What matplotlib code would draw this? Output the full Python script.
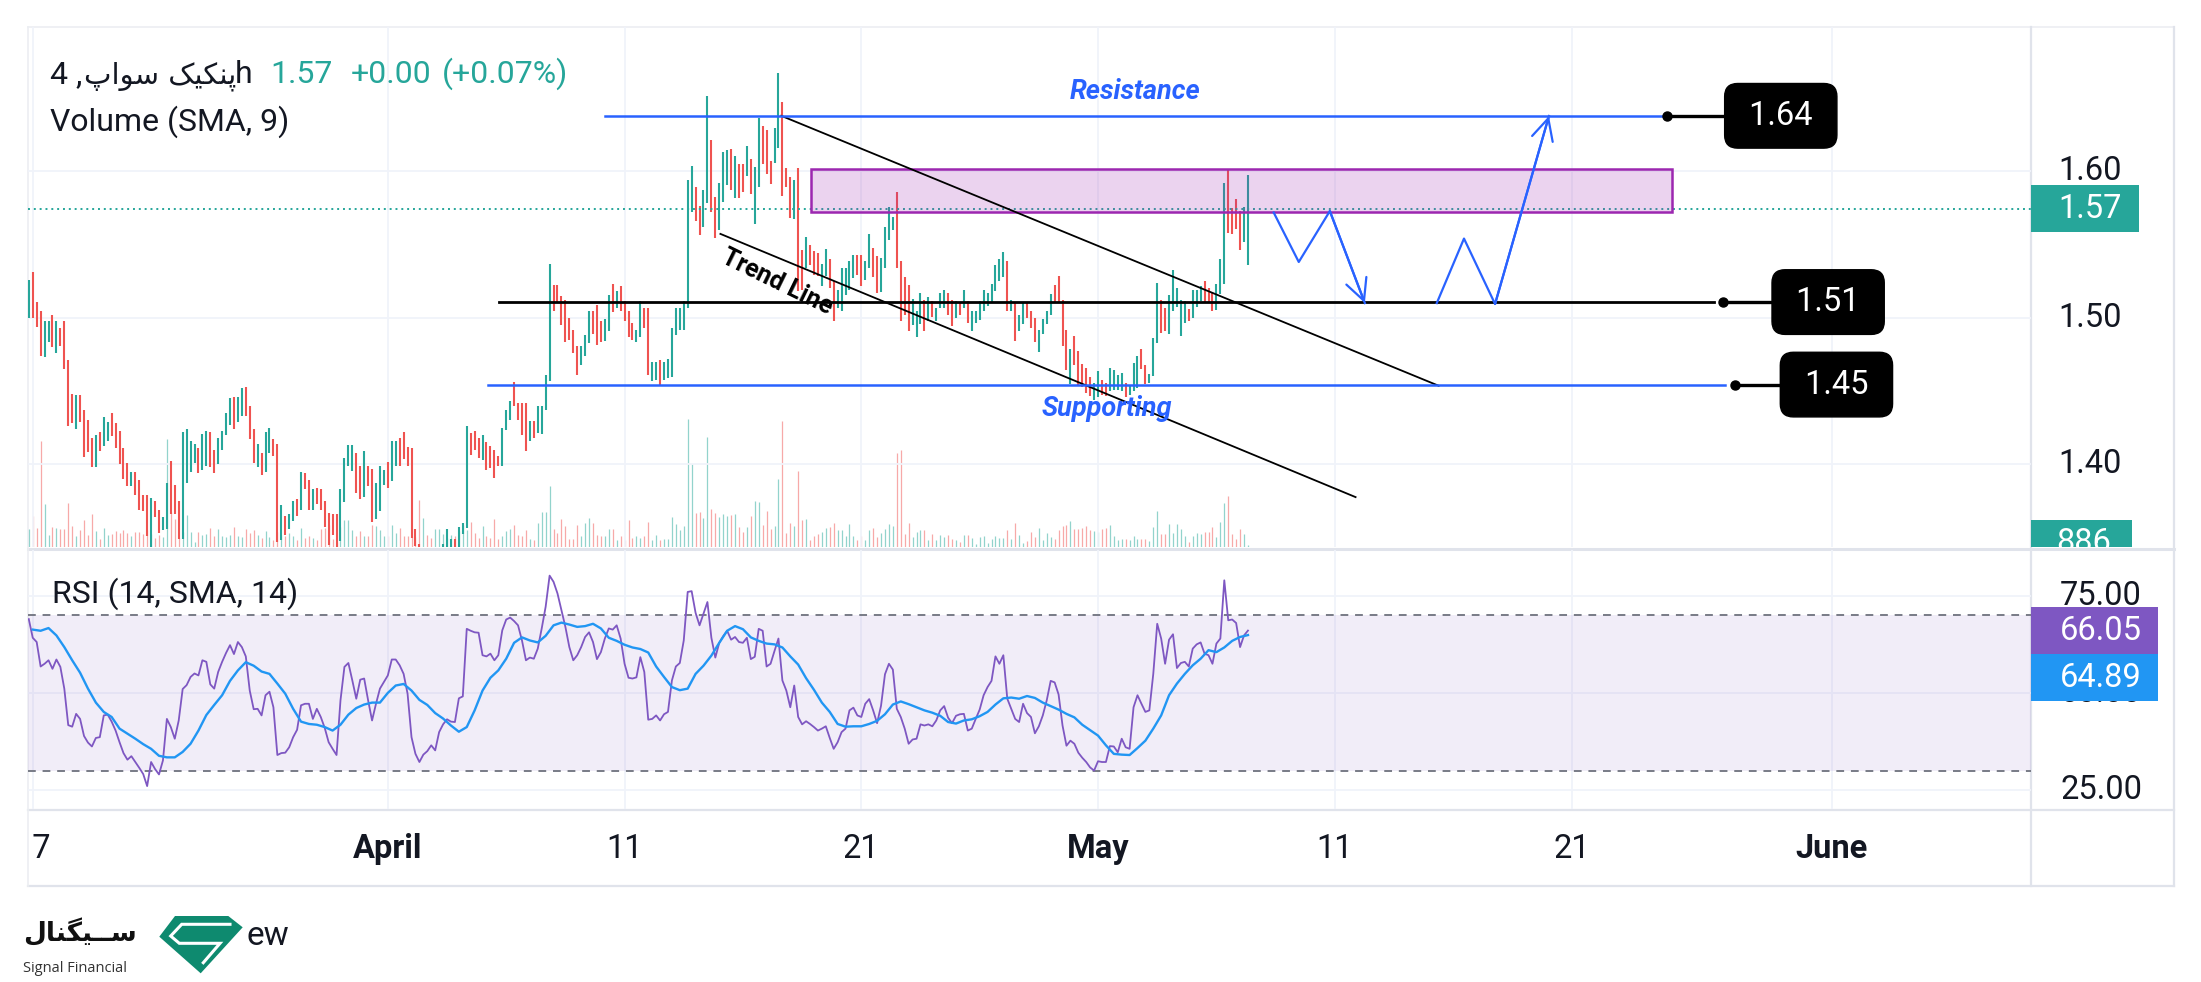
import matplotlib
matplotlib.use("Agg")
import matplotlib.pyplot as plt
import matplotlib.dates as mdates
from matplotlib.patches import Rectangle, Polygon
import pandas as pd

W, H = 2201, 982
plt.rcParams['font.family'] = ['Roboto', 'DejaVu Sans']

# ---------------- values ----------------
candle_start = "2025-03-16 20:00"      # first visible 4h candle

candle_high = [
    1.5257, 1.5310, 1.5110, 1.5046, 1.4977, 1.4977, 1.5018, 1.4977, 1.4930, 1.4977,
    1.4710, 1.4480, 1.4470, 1.4470, 1.4370, 1.4300, 1.4180, 1.4200, 1.4220, 1.4320,
    1.4290, 1.4350, 1.4280, 1.4226, 1.4110, 1.4007, 1.3945, 1.3945, 1.3890, 1.3790,
    1.3790, 1.3770, 1.3750, 1.3686, 1.3640, 1.3870, 1.4020, 1.3856, 1.3750, 1.4220,
    1.4240, 1.4160, 1.4137, 1.4110, 1.4205, 1.4226, 1.4220, 1.4096, 1.4180, 1.4226,
    1.4350, 1.4450, 1.4458, 1.4458, 1.4520, 1.4526, 1.4396, 1.4240, 1.4137, 1.4075,
    1.4220, 1.4246, 1.4170, 1.4137, 1.3720, 1.3645, 1.3658, 1.3747, 1.3760, 1.3945,
    1.3940, 1.3890, 1.3830, 1.3836, 1.3830, 1.3747, 1.3663, 1.3658, 1.3658, 1.3826,
    1.4040, 1.4133, 1.4133, 1.4076, 1.3985, 1.4087, 1.3990, 1.3967, 1.3871, 1.3990,
    1.3962, 1.4012, 1.4160, 1.4160, 1.4178, 1.4220, 1.4115, 1.4110, 1.3553, 1.3451,
    1.3400, 1.3380, 1.3390, 1.3410, 1.3420, 1.3455, 1.3553, 1.3490, 1.3490, 1.3570,
    1.3600, 1.4263, 1.4213, 1.4224, 1.4179, 1.4201, 1.4151, 1.4122, 1.4099, 1.4053,
    1.4247, 1.4372, 1.4429, 1.4561, 1.4418, 1.4418, 1.4418, 1.4292, 1.4292, 1.4395,
    1.4395, 1.4611, 1.5369, 1.5221, 1.5221, 1.5146, 1.5123, 1.4998, 1.4918, 1.4809,
    1.4809, 1.4884, 1.5043, 1.5043, 1.5084, 1.4980, 1.4993, 1.5152, 1.5230, 1.5184,
    1.5214, 1.5111, 1.5048, 1.4964, 1.4918, 1.5111, 1.5066, 1.5066, 1.4697, 1.4697,
    1.4713, 1.4697, 1.4720, 1.4929, 1.5066, 1.5066, 1.5111, 1.5942, 1.6038, 1.5896,
    1.5767, 1.5874, 1.6516, 1.6216, 1.5828, 1.5919, 1.6130, 1.6146, 1.6152, 1.6107,
    1.6050, 1.6050, 1.6171, 1.6084, 1.6027, 1.6368, 1.6307, 1.6284, 1.6073, 1.6300,
    1.6676, 1.6476, 1.6020, 1.5959, 1.5940, 1.6020, 1.5464, 1.5555, 1.5494, 1.5453,
    1.5441, 1.5366, 1.5471, 1.5403, 1.5248, 1.5191, 1.5339, 1.5339, 1.5389, 1.5430,
    1.5430, 1.5430, 1.5385, 1.5571, 1.5475, 1.5423, 1.5407, 1.5623, 1.5760, 1.5687,
    1.5856, 1.5385, 1.5275, 1.5221, 1.5130, 1.5043, 1.5168, 1.5123, 1.5139, 1.5111,
    1.5066, 1.5168, 1.5191, 1.5168, 1.5123, 1.5111, 1.5107, 1.5191, 1.5111, 1.5043,
    1.5043, 1.5111, 1.5191, 1.5168, 1.5230, 1.5362, 1.5403, 1.5448, 1.5389, 1.5123,
    1.5107, 1.5020, 1.5100, 1.5100, 1.5043, 1.4998, 1.4918, 1.4993, 1.5043, 1.5162,
    1.5225, 1.5282, 1.5123, 1.4918, 1.4788, 1.4873, 1.4770, 1.4684, 1.4656, 1.4593,
    1.4554, 1.4634, 1.4577, 1.4554, 1.4656, 1.4645, 1.4611, 1.4622, 1.4554, 1.4531,
    1.4691, 1.4736, 1.4788, 1.4679, 1.4615, 1.4861, 1.5237, 1.5123, 1.5066, 1.5157,
    1.5328, 1.5203, 1.5123, 1.5111, 1.5061, 1.5191, 1.5191, 1.5214, 1.5248, 1.5203,
    1.5175, 1.5230, 1.5403, 1.5919, 1.6010, 1.5749, 1.5812, 1.5730, 1.5760, 1.5976,
]
candle_low = [
    1.5000, 1.5000, 1.4940, 1.4740, 1.4733, 1.4836, 1.4800, 1.4760, 1.4806, 1.4650,
    1.4260, 1.4280, 1.4240, 1.4290, 1.4050, 1.4080, 1.3980, 1.3980, 1.4090, 1.4120,
    1.4160, 1.4190, 1.4110, 1.4000, 1.3900, 1.3850, 1.3850, 1.3790, 1.3686, 1.3680,
    1.3510, 1.3400, 1.3640, 1.3530, 1.3550, 1.3556, 1.3656, 1.3656, 1.3490, 1.3490,
    1.3870, 1.3945, 1.4007, 1.3940, 1.3960, 1.3986, 1.3980, 1.3940, 1.4000, 1.4096,
    1.4200, 1.4267, 1.4240, 1.4287, 1.4330, 1.4330, 1.4170, 1.4010, 1.3980, 1.3925,
    1.3945, 1.4075, 1.4055, 1.3470, 1.3480, 1.3515, 1.3556, 1.3610, 1.3645, 1.3686,
    1.3830, 1.3686, 1.3686, 1.3727, 1.3686, 1.3570, 1.3446, 1.3515, 1.3420, 1.3473,
    1.3740, 1.3985, 1.3950, 1.3800, 1.3758, 1.3774, 1.3853, 1.3605, 1.3621, 1.3678,
    1.3860, 1.3837, 1.3883, 1.3990, 1.3985, 1.4035, 1.3985, 1.3496, 1.3439, 1.3380,
    1.3300, 1.3280, 1.3290, 1.3310, 1.3330, 1.3360, 1.3380, 1.3390, 1.3400, 1.3410,
    1.3519, 1.3564, 1.4065, 1.4099, 1.4042, 1.4031, 1.3962, 1.3974, 1.3906, 1.3985,
    1.3985, 1.4235, 1.4304, 1.4395, 1.4304, 1.4201, 1.4092, 1.4156, 1.4179, 1.4213,
    1.4208, 1.4372, 1.4565, 1.5048, 1.5107, 1.4952, 1.4834, 1.4850, 1.4759, 1.4606,
    1.4679, 1.4736, 1.4827, 1.4889, 1.4811, 1.4834, 1.4843, 1.4907, 1.5039, 1.5066,
    1.5043, 1.4980, 1.4866, 1.4850, 1.4834, 1.4866, 1.4929, 1.4611, 1.4570, 1.4577,
    1.4531, 1.4577, 1.4588, 1.4593, 1.4884, 1.4918, 1.4918, 1.5066, 1.5726, 1.5662,
    1.5562, 1.5623, 1.5783, 1.5726, 1.5544, 1.5601, 1.5790, 1.5908, 1.5874, 1.5817,
    1.5821, 1.5858, 1.5966, 1.5844, 1.5640, 1.5896, 1.6050, 1.5982, 1.5912, 1.6057,
    1.6158, 1.5835, 1.5896, 1.5685, 1.5674, 1.5184, 1.5191, 1.5339, 1.5357, 1.5289,
    1.5282, 1.5214, 1.5282, 1.5203, 1.4980, 1.5066, 1.5043, 1.5157, 1.5191, 1.5271,
    1.5294, 1.5214, 1.5259, 1.5339, 1.5275, 1.5168, 1.5175, 1.5339, 1.5532, 1.5601,
    1.5339, 1.4975, 1.5021, 1.4907, 1.4952, 1.4866, 1.4957, 1.4911, 1.4975, 1.5002,
    1.4975, 1.5066, 1.5066, 1.5021, 1.4941, 1.4998, 1.5020, 1.5066, 1.4964, 1.4907,
    1.4964, 1.4986, 1.5048, 1.5077, 1.5100, 1.5180, 1.5253, 1.5275, 1.5048, 1.5043,
    1.4843, 1.4911, 1.4957, 1.4998, 1.4929, 1.4834, 1.4766, 1.4889, 1.4957, 1.5020,
    1.5100, 1.5100, 1.4804, 1.4645, 1.4547, 1.4679, 1.4531, 1.4524, 1.4486, 1.4463,
    1.4440, 1.4456, 1.4474, 1.4463, 1.4502, 1.4509, 1.4509, 1.4497, 1.4456, 1.4474,
    1.4502, 1.4520, 1.4652, 1.4547, 1.4554, 1.4600, 1.4827, 1.4895, 1.4907, 1.4889,
    1.5048, 1.5071, 1.4873, 1.4964, 1.4975, 1.4998, 1.5071, 1.5116, 1.5100, 1.5100,
    1.5048, 1.5055, 1.5162, 1.5230, 1.5578, 1.5571, 1.5608, 1.5464, 1.5516, 1.5362,
]
# G = rising candle, R = falling candle
candle_dir = (
    "GRRRGGRGRR" "RRGRRRRGRG" "GRRRRRGRRR" "RGRRGGRRRG" "GGGRGGRRGG"
    "GGRGGRRRGR" "GGRRGRGGRG" "RRGRRRRRRG" "GGGRRGRRGG" "GRGGRRRRRR"
    "GRRGGGGGRG" "GGRRRGRRRR" "GGGRRRRGRG" "GGGRRRRRRR" "GGGRRRGGRG"
    "RRRRGGRRGG" "RGGGGGGGGR" "RGGRRGGGRG" "RRGRGGRRRG" "GRRRGRRGRR"
    "RGGRRGGGGG" "RRGGRRGGGG" "RRRRGGGRGR" "GGGRRGRGRG" "GGGGGGGGRG"
    "RGGRRRGGGG" "RRRRGRRRRR" "GGRRGGGGRG" "GGRRGGGRRG" "GGGGRGGGRR"
    "RGGGRRRRGG"
)
volume = [
    55, 93, 57, 318, 129, 36, 60, 57, 54, 54, 132, 63, 33, 51, 81, 36, 99, 48, 24, 57,
    36, 39, 48, 42, 51, 42, 33, 45, 45, 39, 50, 40, 27, 36, 30, 324, 105, 85, 27, 45,
    96, 45, 15, 45, 36, 39, 57, 33, 54, 33, 30, 36, 60, 33, 30, 54, 42, 51, 36, 27,
    48, 30, 21, 45, 36, 33, 42, 33, 21, 57, 27, 33, 27, 21, 54, 57, 65, 25, 15,
    60, 82, 80, 52, 32, 47, 34, 32, 67, 64, 52, 32, 32, 67, 42, 57, 32, 32, 30, 30,
    142, 87, 37, 27, 54, 54, 40, 27, 37, 32, 47, 67, 52, 74, 42, 27, 62, 32, 27, 84,
    24, 34, 47, 54, 67, 37, 32, 52, 24, 20, 72, 104, 104, 182, 54, 42, 84, 62, 24, 24,
    67, 32, 72, 87, 72, 37, 32, 32, 54, 54, 20, 32, 20, 82, 27, 32, 27, 32, 74,
    20, 35, 22, 25, 25, 90, 68, 52, 62, 385, 248, 102, 105, 87, 330, 113, 102, 90, 98, 92,
    95, 98, 60, 45, 60, 92, 138, 135, 65, 108, 55, 62, 205, 378, 42, 72, 62, 228, 80, 85,
    22, 32, 38, 45, 58, 60, 72, 52, 52, 32, 68, 32, 22, 32, 22, 50, 58, 30, 42, 55,
    70, 62, 282, 290, 38, 72, 30, 45, 50, 52, 22, 40, 22, 35, 30, 35, 25,
    20, 15, 35, 35, 27, 8, 30, 32, 12, 25, 32, 28, 27, 52, 25, 72, 35, 12, 18, 45,
    30, 58, 22, 42, 30, 25, 52, 62, 65, 78, 55, 55, 58, 62, 52, 48, 45, 55, 58, 65,
    32, 22, 25, 25, 20, 32, 25, 25, 25, 18, 60, 108, 38, 38, 68, 42, 68, 55, 32, 15,
    32, 42, 38, 45, 45, 60, 30, 75, 132, 152, 38, 25, 55, 38, 5,
]
rsi = [
    69.0, 64.2, 63.1, 56.8, 57.5, 58.4, 56.2, 58.6, 56.7, 51.1,
    41.7, 41.3, 44.6, 43.3, 38.9, 37.2, 36.2, 38.4, 38.6, 44.2,
    44.4, 42.6, 40.3, 37.3, 34.5, 32.8, 33.7, 32.2, 30.7, 29.1,
    26.0, 32.2, 30.4, 29.0, 32.6, 43.3, 41.2, 38.2, 42.9, 51.0,
    52.0, 54.1, 55.0, 54.5, 58.4, 58.0, 52.2, 51.1, 55.4, 58.0,
    60.3, 62.3, 60.0, 63.1, 61.8, 59.4, 50.6, 45.8, 45.9, 44.2,
    49.4, 50.3, 46.3, 34.0, 34.5, 34.6, 36.0, 38.6, 40.5, 46.8,
    47.2, 47.2, 43.3, 45.9, 43.8, 41.0, 37.3, 35.6, 34.0, 48.1,
    56.7, 57.7, 53.2, 48.5, 53.4, 53.7, 48.1, 42.9, 47.2, 51.1,
    52.8, 54.5, 58.6, 58.6, 57.1, 54.9, 49.8, 38.6, 34.3, 32.2,
    34.1, 35.0, 36.5, 35.2, 39.9, 41.9, 43.2, 42.6, 42.5, 48.6,
    49.1, 66.5, 66.0, 65.6, 65.5, 59.7, 59.4, 60.1, 58.4, 59.7,
    66.1, 68.9, 69.4, 68.5, 67.4, 63.5, 58.4, 59.1, 58.8, 61.4,
    66.6, 72.2, 80.2, 78.6, 75.6, 71.3, 67.0, 61.8, 58.4, 59.7,
    61.8, 64.4, 65.6, 63.1, 58.7, 60.5, 64.0, 66.6, 66.3, 67.4,
    64.0, 57.5, 53.9, 53.7, 54.0, 59.2, 55.4, 43.1, 43.3, 44.2,
    42.9, 44.5, 45.1, 53.2, 56.8, 57.7, 63.5, 76.0, 76.2, 70.6,
    67.4, 70.4, 73.4, 64.2, 59.1, 62.9, 64.6, 66.0, 63.7, 64.4,
    63.1, 62.9, 64.2, 58.7, 59.3, 66.5, 66.0, 56.8, 57.5, 60.8,
    64.0, 53.2, 50.6, 46.3, 51.9, 43.8, 41.9, 42.7, 42.0, 41.2,
    40.3, 40.8, 41.4, 38.4, 35.6, 37.3, 39.9, 40.8, 45.5, 46.2,
    44.2, 43.8, 47.2, 48.4, 45.5, 42.2, 46.7, 54.8, 57.5, 56.0,
    45.9, 43.8, 40.8, 36.9, 38.0, 38.2, 41.9, 41.6, 41.9, 41.4,
    42.9, 45.5, 46.6, 43.6, 42.2, 44.1, 44.5, 44.6, 40.3, 40.8,
    43.3, 45.7, 49.4, 51.5, 53.1, 59.4, 57.5, 59.7, 48.5, 45.9,
    43.3, 42.5, 47.2, 44.8, 43.8, 39.6, 41.4, 44.2, 48.1, 53.1,
    52.7, 49.6, 41.6, 36.4, 37.7, 36.9, 34.6, 33.3, 32.2, 30.8,
    30.0, 32.4, 32.2, 32.2, 36.3, 36.2, 34.7, 38.2, 36.0, 35.6,
    46.3, 49.4, 47.2, 45.1, 45.5, 54.9, 67.8, 64.0, 57.5, 63.7,
    65.1, 56.4, 57.7, 58.0, 56.8, 61.4, 62.5, 63.0, 60.1, 59.7,
    57.5, 62.7, 64.0, 79.0, 68.7, 68.9, 68.0, 61.8, 64.8, 66.05,
]
# RSI moving average, read at every second candle (2nd, 4th, ... last)
rsi_ma = [
    66.3, 66.0, 66.7, 64.8, 61.8, 58.4, 55.2, 51.1, 47.5, 45.1,
    43.8, 40.8, 39.5, 38.2, 36.8, 35.6, 33.8, 33.4, 33.4, 34.8,
    36.9, 40.3, 44.3, 46.9, 49.4, 53.1, 55.8, 57.9, 57.0, 55.5,
    54.9, 52.4, 49.8, 45.9, 42.6, 42.0, 41.8, 41.2, 40.3, 41.8,
    44.4, 46.1, 47.0, 47.5, 47.5, 50.0, 51.9, 52.3, 50.6, 48.2,
    46.9, 44.8, 43.4, 41.6, 40.0, 41.2, 45.5, 50.6, 53.9, 55.8,
    58.8, 62.9, 64.3, 63.5, 63.0, 64.7, 67.4, 68.1, 67.6, 67.0,
    67.2, 67.8, 66.6, 64.2, 63.4, 62.4, 61.7, 61.3, 60.4, 56.8,
    54.1, 51.5, 50.7, 51.1, 54.9, 57.0, 59.6, 62.9, 66.0, 67.2,
    66.4, 64.3, 63.4, 62.7, 62.5, 61.7, 59.4, 57.3, 53.8, 50.8,
    47.5, 45.1, 42.0, 41.3, 41.4, 41.4, 42.0, 42.8, 44.5, 47.0,
    47.8, 47.1, 46.3, 45.5, 44.9, 44.1, 42.5, 42.1, 42.9, 43.2,
    44.0, 45.1, 47.0, 48.6, 48.8, 48.5, 49.2, 48.7, 47.5, 46.6,
    45.7, 44.6, 43.7, 41.8, 40.4, 39.0, 36.5, 34.3, 34.1, 34.0,
    35.8, 37.7, 40.8, 44.2, 49.4, 52.4, 54.9, 57.1, 58.8, 61.0,
    60.5, 61.7, 63.4, 64.4, 64.89,
]
last_close = 1.5744
last_volume_text = "886"
price_ticks = [1.40, 1.50, 1.60]
rsi_ticks = [25, 50, 75]
date_ticks = ["2025-03-17", "2025-04-01", "2025-04-11", "2025-04-21",
              "2025-05-01", "2025-05-11", "2025-05-21", "2025-06-01"]
date_labels = ["17", "April", "11", "21", "May", "11", "21", "June"]

# drawn levels: (price, label, line start, line end, anchor dot, label centre, colour)
levels = [
    (1.6380, "1.64", "2025-04-10 04:30", "2025-05-24 19:40", "2025-05-25 00:30", "2025-05-29 20:10", '#2962ff'),
    (1.5107, "1.51", "2025-04-05 16:50", "2025-05-27 00:15", "2025-05-27 09:20", "2025-05-31 20:10", '#000000'),
    (1.4543, "1.45", "2025-04-05 05:45", "2025-05-27 11:15", "2025-05-27 21:50", "2025-06-01 04:35", '#2962ff'),
]
zone = ("2025-04-18 21:20", "2025-05-25 05:45", 1.5726, 1.6017)
trend_upper = (["2025-04-17 14:50", "2025-05-15 09:20"], [1.6380, 1.4535])
trend_lower = (["2025-04-15 01:10", "2025-05-11 21:05"], [1.5573, 1.3774])
path1 = (["2025-05-08 10:05", "2025-05-09 11:30", "2025-05-10 19:00", "2025-05-12 06:30"],
         [1.5719, 1.5381, 1.5729, 1.5100])
path2 = (["2025-05-15 07:25", "2025-05-16 11:00", "2025-05-17 18:30", "2025-05-20 01:10"],
         [1.5100, 1.5541, 1.5094, 1.6379])

# ---------------- layout ----------------
UP, DOWN = '#26a69a', '#ef5350'
VUP, VDOWN = '#92d3cc', '#f7a9a8'
TXT = '#131722'
BLUE = '#2962ff'
GRID = '#f0f3fa'
BORDER = '#e0e3eb'
FS = 23
AFS = 23.5

fig = plt.figure(figsize=(W / 100, H / 100), dpi=100)
fig.patch.set_facecolor('white')


def rect(x0, y0, x1, y1):
    return [x0 / W, 1 - y1 / H, (x1 - x0) / W, (y1 - y0) / H]


ax = fig.add_axes(rect(28, 27, 2031, 547))
ax_rsi = fig.add_axes(rect(28, 550, 2031, 809))
ax_date = fig.add_axes(rect(28, 809, 2031, 886))
ax_ps = fig.add_axes(rect(2031, 27, 2174, 547))
ax_rs = fig.add_axes(rect(2031, 550, 2174, 809))
ax_fig = fig.add_axes([0, 0, 1, 1], zorder=-5)
ax_top = fig.add_axes([0, 0, 1, 1], zorder=20)
for a in (ax_fig, ax_top):
    a.set_xlim(0, W)
    a.set_ylim(H, 0)
ax_top.patch.set_visible(False)

for a in (ax, ax_rsi, ax_date, ax_ps, ax_rs, ax_fig, ax_top):
    a.set_axis_off()

t = pd.date_range(candle_start, periods=len(candle_high), freq='4h')
x = mdates.date2num(t)
xlim = mdates.datestr2num(["2025-03-16 19:12", "2025-06-09 09:50"])
for a in (ax, ax_rsi, ax_date):
    a.set_xlim(*xlim)

price_lim = (1.3433, 1.6987)
rsi_lim = (20.1, 86.8)
ax.set_ylim(*price_lim)
ax_ps.set_ylim(*price_lim)
ax_ps.set_xlim(0, 143)
ax_rsi.set_ylim(*rsi_lim)
ax_rs.set_ylim(*rsi_lim)
ax_rs.set_xlim(0, 143)

dt = mdates.datestr2num(date_ticks)

# grid
for p in price_ticks:
    ax.axhline(p, color=GRID, lw=1.3, zorder=0)
for r in rsi_ticks:
    ax_rsi.axhline(r, color=GRID, lw=1.3, zorder=0)
for d in dt:
    ax.axvline(d, color=GRID, lw=1.3, zorder=0)
    ax_rsi.axvline(d, color=GRID, lw=1.3, zorder=0)

# volume
axv = ax.twinx()
axv.set_axis_off()
axv.set_ylim(0, 1560)
vcols = [VUP if c == 'G' else VDOWN for c in candle_dir]
axv.vlines(x, 0, volume, colors=vcols, lw=0.9)
ax.set_zorder(axv.get_zorder() + 1)
ax.patch.set_visible(False)

# candles
cols = [UP if c == 'G' else DOWN for c in candle_dir]
ax.vlines(x, candle_low, candle_high, colors=cols, lw=1.5, zorder=3)
ax.axhline(last_close, color=UP, lw=1.4, ls=(0, (1, 2)), zorder=3)

# drawings
z0, z1 = mdates.datestr2num([zone[0], zone[1]])
ax.add_patch(Rectangle((z0, zone[2]), z1 - z0, zone[3] - zone[2],
                       fc=(156 / 255, 39 / 255, 176 / 255, 0.2), ec='#9c27b0', lw=1.8, zorder=4))

for tr in (trend_upper, trend_lower):
    ax.plot(mdates.datestr2num(tr[0]), tr[1], color='black', lw=1.3, zorder=5)

for price, lab, s, e, dot, cen, col in levels:
    s, e, dot, cen = mdates.datestr2num([s, e, dot, cen])
    ax.plot([s, e], [price, price], color=col, lw=1.8 if col != '#000000' else 2.0, zorder=5)
    ax.plot([dot, cen], [price, price], color='black', lw=2.4, zorder=5)
    ax.plot(dot, price, 'o', color='black', ms=6.5, zorder=6)
    ax.text(cen, price, f" {lab} ", color='white', fontsize=AFS, ha='center', va='center', zorder=7,
            bbox=dict(boxstyle='round,pad=0.5,rounding_size=0.4', fc='black', ec='black'))

for pth in (path1, path2):
    px = mdates.datestr2num(pth[0])
    ax.plot(px, pth[1], color=BLUE, lw=1.6, zorder=5)
    ax.annotate('', xy=(px[-1], pth[1][-1]), xytext=(px[-2], pth[1][-2]), zorder=5,
                arrowprops=dict(arrowstyle='->,head_length=0.7,head_width=0.35', color=BLUE,
                                lw=1.6, mutation_scale=22, shrinkA=0, shrinkB=0))

ax.text(mdates.datestr2num("2025-05-02 14:00"), 1.6543, "Resistance", color=BLUE,
        fontsize=19.5, fontweight='bold', fontstyle='italic', ha='center', va='center', zorder=6)
ax.text(mdates.datestr2num("2025-05-01 08:40"), 1.4383, "Supporting", color=BLUE,
        fontsize=19.5, fontweight='bold', fontstyle='italic', ha='center', va='center', zorder=6)
ax.text(mdates.datestr2num("2025-04-17 10:50"), 1.5244, "Trend Line", color='black',
        fontsize=18, fontweight='bold', rotation=-26, rotation_mode='anchor',
        ha='center', va='center', zorder=6)

# RSI pane
ax_rsi.axhspan(30, 70, color='#7e57c2', alpha=0.1, lw=0, zorder=0)
for lvl in (30, 70):
    ax_rsi.axhline(lvl, color='#787b86', lw=1.4, ls=(0, (4, 3.5)), zorder=1)
ax_rsi.plot(x, rsi, color='#7e57c2', lw=1.3, zorder=3)
ax_rsi.plot(x[1::2], rsi_ma, color='#2196f3', lw=1.7, zorder=4)

# price scale
ppx = (price_lim[1] - price_lim[0]) / 520.0
for p in price_ticks:
    ax_ps.text(27, p, f"{p:.2f}", color=TXT, fontsize=AFS, va='center', ha='left')
ax_ps.add_patch(Rectangle((0, last_close - 23.5 * ppx), 108, 47 * ppx, fc=UP, ec='none'))
ax_ps.text(27, last_close, f"{last_close:.2f}", color='white', fontsize=AFS, va='center', ha='left')
ax_ps.add_patch(Rectangle((0, price_lim[0] - 20 * ppx), 101, 47 * ppx, fc=UP, ec='none', clip_on=True))
ax_ps.text(25, price_lim[0] + 3.5 * ppx, last_volume_text, color='white', fontsize=AFS,
           va='center', ha='left', clip_on=True)

# RSI scale
rpx = (rsi_lim[1] - rsi_lim[0]) / 259.0
for r in rsi_ticks:
    ax_rs.text(29, r, f"{r:.2f}", color=TXT, fontsize=AFS, va='center', ha='left')
bh = 47 * rpx
ax_rs.add_patch(Rectangle((0, rsi[-1] - bh / 2), 127, bh, fc='#7e57c2', ec='none', zorder=5))
ax_rs.text(29, rsi[-1], f"{rsi[-1]:.2f}", color='white', fontsize=AFS, va='center', ha='left', zorder=6)
ax_rs.add_patch(Rectangle((0, rsi[-1] - 1.5 * bh), 127, bh, fc='#2196f3', ec='none', zorder=5))
ax_rs.text(29, rsi[-1] - bh, f"{rsi_ma[-1]:.2f}", color='white', fontsize=AFS, va='center',
           ha='left', zorder=6)

# time axis
for d, lab in zip(dt, date_labels):
    ax_date.text(d, 0.48, lab, color=TXT, fontsize=AFS, ha='center', va='center',
                 fontweight='bold' if lab.isalpha() else 'normal', clip_on=True)

# frame lines
ax_fig.plot([28, 2174], [27, 27], color='#eceef2', lw=1.2)
ax_fig.plot([28, 2174], [548.5, 548.5], color=BORDER, lw=2.2)
ax_fig.plot([28, 2174], [809.5, 809.5], color=BORDER, lw=1.6)
ax_fig.plot([28, 2174], [886, 886], color=BORDER, lw=1.6)
ax_fig.plot([28, 28], [27, 886], color='#eceef2', lw=1.2)
ax_fig.plot([2031, 2031], [27, 886], color=BORDER, lw=1.6)
ax_fig.plot([2174, 2174], [27, 886], color=BORDER, lw=1.6)

# legends (baseline aligned)
title_fa = "\ufb56\ufe8d\ufeee\ufeb3" + " " + "\ufb8f\ufbff\ufb91\ufee8\ufb58"
ax_top.text(50, 83, "4 ,", color=TXT, fontsize=FS, va='baseline', ha='left')
ax_top.text(84, 83, title_fa, color=TXT, fontsize=21, va='baseline', ha='left',
            family=['DejaVu Sans'])
ax_top.text(252, 83, "h", color=TXT, fontsize=FS, va='baseline', ha='right')
ax_top.text(270, 83, "1.57", color=UP, fontsize=FS, va='baseline', ha='left')
ax_top.text(351, 83, "+0.00", color=UP, fontsize=FS, va='baseline', ha='left')
ax_top.text(442, 83, "(+0.07%)", color=UP, fontsize=FS, va='baseline', ha='left')
ax_top.text(50, 131, "Volume (SMA, 9)", color=TXT, fontsize=FS, va='baseline', ha='left')
ax_top.text(52, 603, "RSI (14, SMA, 14)", color=TXT, fontsize=FS, va='baseline', ha='left')

# logo
logo_fa = "\ufedd\ufe8e\ufee8\ufb95\ufbff\u0640\u0640\ufeb3"
ax_top.text(23, 933, logo_fa, color='#111111', fontsize=19, fontweight='bold',
            family=['DejaVu Sans'], va='center', ha='left')
ax_top.text(23, 968, "Signal Financial", color='#333333', fontsize=10.5,
            family=['Open Sans', 'DejaVu Sans'], va='center', ha='left')
ax_top.add_patch(Polygon([(175, 916), (228.3, 916), (242.7, 927.3), (200.7, 973.3), (159.3, 936.7)],
                         closed=True, fc='#0e8a6f', ec='none'))
ax_top.plot([230, 181.7, 170.7, 179.3, 220, 203.3], [924.3, 924.3, 936, 943.3, 943.3, 962.7],
            color='white', lw=2.2, solid_joinstyle='miter')
ax_top.text(247, 936, "ew", color=TXT, fontsize=24, va='center', ha='left')

fig.savefig("out.png", dpi=100, facecolor='white')
